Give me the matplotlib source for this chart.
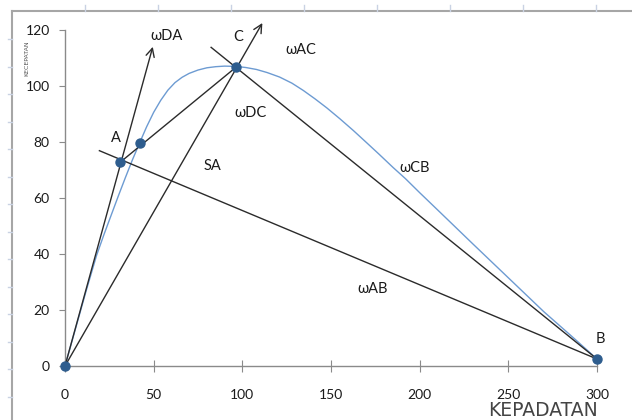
import matplotlib
matplotlib.use("Agg")
import matplotlib.pyplot as plt
from matplotlib.lines import Line2D
import numpy as np

# flow curve (kepadatan vs arus)
curve_x = [0, 6, 12, 17.8, 22, 26, 30, 34, 38, 42.3, 46, 50, 54, 58, 62, 66, 70,
           75, 80, 85, 90, 96.4, 102, 108, 114, 121, 128, 134.4, 141, 147.6,
           155, 162.6, 170, 177, 185, 192, 200, 211.5, 230, 250, 270, 287, 300]
curve_y = [0, 13.5, 27, 39.5, 47, 53.8, 60.6, 67.2, 73.6, 80.0, 85.4, 90.6,
           94.9, 98.5, 101.2, 103.1, 104.5, 105.7, 106.5, 106.9, 107.1, 107.0,
           106.6, 105.9, 104.8, 103.2, 101.0, 98.4, 95.4, 92.2, 88.3, 84.1,
           79.8, 75.7, 70.9, 66.9, 61.9, 54.9, 43.6, 31.5, 19.4, 9.9, 2.5]

# marked points: O, A, extra point, C, B
pts_x = [0, 31, 42.3, 96.4, 300]
pts_y = [0, 72.7, 79.8, 106.7, 2.5]

# straight lines (start, end)
line_ac = ([31, 96.4], [72.7, 106.7])
line_ab = ([19.4, 300], [76.9, 2.5])
line_cb = ([82.4, 300], [113.8, 2.5])

# arrows from origin
arrow_da = (49.5, 114.0)
arrow_dc = (111.3, 122.5)

# text labels
labels = ["\u03c9DA", "C", "\u03c9AC", "\u03c9DC", "A", "SA", "\u03c9CB", "\u03c9AB", "B"]
label_x = [57.4, 97.8, 132.9, 104.4, 28.5, 83.2, 197.0, 173.7, 301.9]
label_y = [117.9, 117.6, 113.0, 90.5, 81.6, 71.5, 70.6, 27.4, 9.6]

xticks = [0, 50, 100, 150, 200, 250, 300]
yticks = [0, 20, 40, 60, 80, 100, 120]

W, H = 632, 420
fig = plt.figure(figsize=(W / 100, H / 100), dpi=100)
ax = fig.add_axes([65 / W, (H - 366) / H, (597 - 65) / W, 336 / H])

line_col = "#2b2b2b"
ax.plot(curve_x, curve_y, color="#6d9bd2", lw=1.0, zorder=2, clip_on=False)
ax.plot(*line_ac, color=line_col, lw=1.0, zorder=3)
ax.plot(*line_ab, color=line_col, lw=1.0, zorder=3, clip_on=False)
ax.plot(*line_cb, color=line_col, lw=1.0, zorder=3, clip_on=False)
for tip in (arrow_da, arrow_dc):
    ax.annotate("", xy=tip, xytext=(0, 0), annotation_clip=False,
                arrowprops=dict(arrowstyle="->", lw=1.0, color=line_col,
                                shrinkA=0, shrinkB=0, mutation_scale=15))
ax.plot(pts_x, pts_y, "o", color="#2e5d8e", ms=6.5, zorder=5, clip_on=False)

for t, x, y in zip(labels, label_x, label_y):
    ax.text(x, y, t, ha="center", va="center", fontsize=10.5,
            family=["Lato", "DejaVu Sans"], color="#1a1a1a")

ax.set_xlim(0, 300)
ax.set_ylim(0, 120)
ax.set_xticks(xticks)
ax.set_yticks(yticks)
for s in ("top", "right"):
    ax.spines[s].set_visible(False)
for s in ("left", "bottom"):
    ax.spines[s].set_color("#8a8a8a")
    ax.spines[s].set_linewidth(1.0)
ax.tick_params(axis="y", direction="out", length=4.5, color="#8a8a8a", pad=6.5,
               labelsize=10, labelcolor="#1a1a1a")
ax.tick_params(axis="x", direction="inout", length=8, color="#8a8a8a", pad=12.5,
               labelsize=10, labelcolor="#1a1a1a")
for lab in ax.get_xticklabels() + ax.get_yticklabels():
    lab.set_family("Lato")

fig.text(27 / W, 1 - 58 / H, "KECEPATAN", rotation=90, ha="center", va="center",
         fontsize=4.5, color="#555555")
fig.text(598 / W, 1 - 416 / H, "KEPADATAN", ha="right", va="baseline",
         fontsize=13.5, color="#444444")

# outer sheet frame with small ticks
frame_col = "#a6a6a6"
fig.add_artist(Line2D([12 / W, 12 / W], [0, 1 - 11 / H], transform=fig.transFigure,
                      color=frame_col, lw=1.5))
fig.add_artist(Line2D([12 / W, 1], [1 - 11 / H, 1 - 11 / H], transform=fig.transFigure,
                      color=frame_col, lw=1.5))
for yy in np.arange(39, H, 27.5):
    fig.add_artist(Line2D([8 / W, 12 / W], [1 - yy / H, 1 - yy / H],
                          transform=fig.transFigure, color="#c9d2e3", lw=1))
for xx in np.arange(85, W, 73):
    fig.add_artist(Line2D([xx / W, xx / W], [1 - 5 / H, 1 - 11 / H],
                          transform=fig.transFigure, color="#c9d2e3", lw=1))

fig.savefig("out.png", dpi=100)
